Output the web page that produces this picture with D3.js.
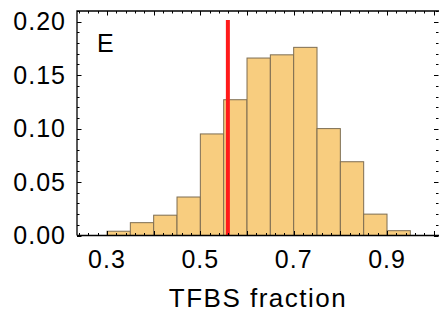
<!DOCTYPE html>
<html>
<head>
<meta charset="utf-8">
<script src="https://cdn.jsdelivr.net/npm/d3@7"></script>
<style>
  body { margin: 0; background: #fff; }
  text { font-family: "Liberation Sans", Arial, sans-serif; fill: #000; }
</style>
</head>
<body>
<div id="hist"></div>
<script>
// histogram bins (left edge) and probability per bin
var binStarts = [0.30, 0.35, 0.40, 0.45, 0.50, 0.55, 0.60, 0.65, 0.70, 0.75, 0.80, 0.85, 0.90];
var binWidth = 0.05;
var probs = [0.004, 0.012, 0.019, 0.036, 0.095, 0.127, 0.166, 0.169, 0.176, 0.100, 0.069, 0.020, 0.0045];
var xTickLabels = [0.3, 0.5, 0.7, 0.9];
var yTickLabels = [0.00, 0.05, 0.10, 0.15, 0.20];
var observed = 0.559;
var panelLabel = "E";
var xLabel = "TFBS fraction";

var width = 439, height = 316;
var margin = {left: 77, right: 439, top: 11, bottom: 235.5};

var svg = d3.select("#hist")
  .append("svg")
  .attr("width", width)
  .attr("height", height);

var x = d3.scaleLinear()
  .domain([0.2357, 1.0114])
  .range([margin.left, margin.right]);

var y = d3.scaleLinear()
  .domain([0, 0.21])
  .range([margin.bottom, margin.top]);

// bars
svg.selectAll("rect.bar")
  .data(binStarts)
  .enter()
  .append("rect")
    .attr("class", "bar")
    .attr("x", function(d) { return x(d); })
    .attr("y", function(d, i) { return y(probs[i]); })
    .attr("width", function(d) { return x(d + binWidth) - x(d); })
    .attr("height", function(d, i) { return y(0) - y(probs[i]); })
    .style("fill", "#f8cd7f")
    .style("stroke", "#7d6d52")
    .style("stroke-width", 1);

// red marker line
svg.append("line")
  .attr("x1", x(observed))
  .attr("x2", x(observed))
  .attr("y1", y(0))
  .attr("y2", y(0.2015))
  .style("stroke", "#ff1a1a")
  .style("stroke-width", 4);

// frame ticks: major and minor, pointing inward on all four sides
var xMajor = d3.range(3, 11).map(function(d) { return d / 10; });
var xMinor = d3.range(12, 51).map(function(d) { return d / 50; }).filter(function(d) { return Math.abs(d * 10 - Math.round(d * 10)) > 1e-6; });
var yMajor = d3.range(0, 5).map(function(d) { return d * 0.05; });
var yMinor = d3.range(0, 22).map(function(d) { return d / 100; }).filter(function(d) { return (Math.round(d * 100) % 5) != 0; });

var tickG = svg.append("g").style("stroke", "#000").style("stroke-width", 1);

function hTicks(vals, len) {
  vals.forEach(function(v) {
    var px = Math.round(x(v)) + 0.5;
    tickG.append("line").attr("x1", px).attr("x2", px).attr("y1", margin.bottom).attr("y2", margin.bottom - len);
    tickG.append("line").attr("x1", px).attr("x2", px).attr("y1", margin.top).attr("y2", margin.top + len);
  });
}
function vTicks(vals, len) {
  vals.forEach(function(v) {
    var py = Math.round(y(v)) + 0.5;
    tickG.append("line").attr("x1", margin.left).attr("x2", margin.left + len).attr("y1", py).attr("y2", py);
    tickG.append("line").attr("x1", margin.right - 0.5).attr("x2", margin.right - 0.5 - len).attr("y1", py).attr("y2", py);
  });
}
hTicks(xMajor, 4.5);
hTicks(xMinor, 2.5);
vTicks(yMajor, 4.5);
vTicks(yMinor, 2.5);

// frame
svg.append("path")
  .attr("d", "M" + margin.left + "," + margin.bottom + "V" + margin.top + "H" + (margin.right + 1) +
             "M" + margin.left + "," + margin.bottom + "H" + (margin.right + 1))
  .style("fill", "none")
  .style("stroke", "#000")
  .style("stroke-width", 1.3);

// tick labels
svg.selectAll("text.xt")
  .data(xTickLabels)
  .enter()
  .append("text")
    .attr("class", "xt")
    .attr("x", function(d) { return x(d); })
    .attr("y", 268)
    .attr("text-anchor", "middle")
    .style("font-size", "25px")
    .style("letter-spacing", "1px")
    .text(function(d) { return d3.format(".1f")(d); });

svg.selectAll("text.yt")
  .data(yTickLabels)
  .enter()
  .append("text")
    .attr("class", "yt")
    .attr("x", 66)
    .attr("y", function(d) { return y(d) + 8.5; })
    .attr("text-anchor", "end")
    .style("font-size", "25px")
    .style("letter-spacing", "1px")
    .text(function(d) { return d3.format(".2f")(d); });

svg.append("text")
  .attr("x", 97)
  .attr("y", 52)
  .style("font-size", "25px")
  .text(panelLabel);

svg.append("text")
  .attr("x", (margin.left + margin.right) / 2)
  .attr("y", 307)
  .attr("text-anchor", "middle")
  .style("font-size", "26px")
  .style("letter-spacing", "1.5px")
  .text(xLabel);
</script>
</body>
</html>
